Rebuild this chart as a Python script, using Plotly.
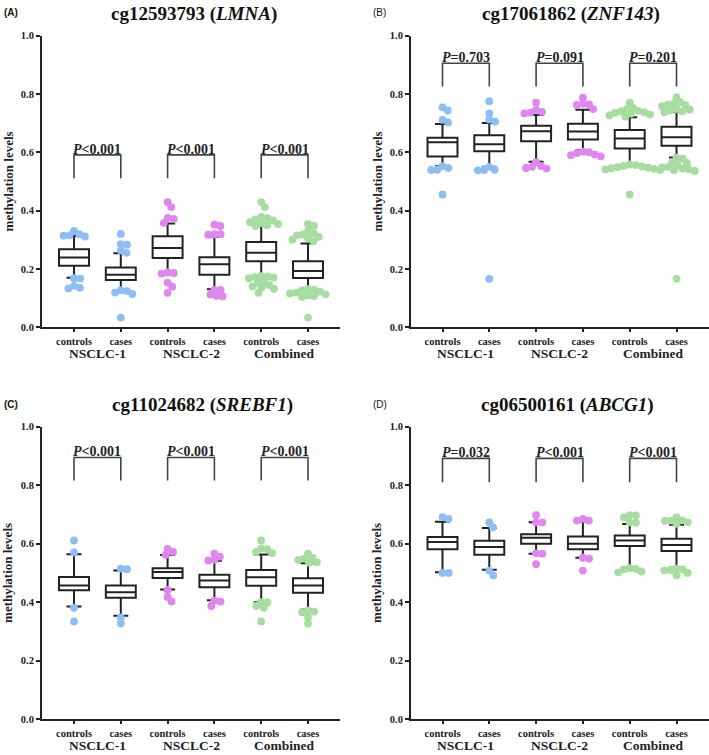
import math
import plotly.graph_objects as go

# ---------------- data ----------------
categories = ["controls", "cases", "controls", "cases", "controls", "cases"]
groups = ["NSCLC-1", "NSCLC-2", "Combined"]
panel_letters = ["(A)", "(B)", "(C)", "(D)"]
cg_ids = ["cg12593793", "cg17061862", "cg11024682", "cg06500161"]
genes = ["LMNA", "ZNF143", "SREBF1", "ABCG1"]
p_labels = [["<0.001", "<0.001", "<0.001"],
            ["=0.703", "=0.091", "=0.201"],
            ["<0.001", "<0.001", "<0.001"],
            ["=0.032", "<0.001", "<0.001"]]
y_ticks = [0.0, 0.2, 0.4, 0.6, 0.8, 1.0]

# box statistics (10-90 percentile whiskers)
q1_A = [0.211, 0.162, 0.237, 0.180, 0.226, 0.169]
med_A = [0.239, 0.180, 0.272, 0.216, 0.255, 0.193]
q3_A = [0.267, 0.205, 0.312, 0.240, 0.292, 0.226]
lo_A = [0.170, 0.128, 0.190, 0.130, 0.176, 0.128]
hi_A = [0.313, 0.254, 0.356, 0.310, 0.347, 0.287]

q1_B = [0.585, 0.603, 0.638, 0.644, 0.613, 0.622]
med_B = [0.634, 0.627, 0.672, 0.671, 0.647, 0.651]
q3_B = [0.650, 0.658, 0.691, 0.698, 0.676, 0.687]
lo_B = [0.552, 0.550, 0.567, 0.607, 0.560, 0.582]
hi_B = [0.697, 0.700, 0.728, 0.746, 0.720, 0.738]

q1_C = [0.441, 0.415, 0.483, 0.451, 0.456, 0.432]
med_C = [0.457, 0.434, 0.503, 0.474, 0.485, 0.457]
q3_C = [0.486, 0.457, 0.516, 0.494, 0.510, 0.482]
lo_C = [0.385, 0.354, 0.443, 0.407, 0.400, 0.375]
hi_C = [0.564, 0.508, 0.561, 0.542, 0.563, 0.533]

q1_D = [0.581, 0.562, 0.600, 0.581, 0.592, 0.575]
med_D = [0.606, 0.589, 0.620, 0.600, 0.611, 0.596]
q3_D = [0.623, 0.610, 0.632, 0.625, 0.628, 0.617]
lo_D = [0.502, 0.511, 0.566, 0.552, 0.519, 0.519]
hi_D = [0.675, 0.654, 0.673, 0.676, 0.667, 0.665]

# points beyond the whiskers
out_A = [
    [0.330, 0.319, 0.315, 0.314, 0.311, 0.168, 0.167, 0.142, 0.135, 0.133],
    [0.320, 0.285, 0.283, 0.263, 0.255, 0.127, 0.124, 0.119, 0.114, 0.033],
    [0.429, 0.412, 0.375, 0.371, 0.358, 0.188, 0.186, 0.184, 0.153, 0.139, 0.118],
    [0.352, 0.347, 0.319, 0.319, 0.317, 0.128, 0.128, 0.112, 0.108, 0.106],
    [0.429, 0.412, 0.378, 0.374, 0.370, 0.366, 0.360, 0.357, 0.354, 0.350, 0.347,
     0.175, 0.174, 0.172, 0.170, 0.168, 0.156, 0.152, 0.145, 0.140, 0.136, 0.132, 0.118],
    [0.354, 0.348, 0.330, 0.322, 0.318, 0.315, 0.310, 0.305, 0.300, 0.295,
     0.131, 0.128, 0.126, 0.122, 0.119, 0.116, 0.113, 0.110, 0.107, 0.104, 0.033],
]
out_B = [
    [0.754, 0.743, 0.711, 0.702, 0.552, 0.546, 0.540, 0.539, 0.455],
    [0.775, 0.733, 0.712, 0.705, 0.550, 0.540, 0.539, 0.538, 0.166],
    [0.770, 0.745, 0.738, 0.736, 0.733, 0.566, 0.553, 0.550, 0.546, 0.544],
    [0.787, 0.766, 0.764, 0.762, 0.748, 0.602, 0.600, 0.597, 0.592, 0.590, 0.586],
    [0.770, 0.752, 0.748, 0.742, 0.740, 0.737, 0.735, 0.732, 0.729, 0.726, 0.722,
     0.558, 0.556, 0.553, 0.551, 0.549, 0.547, 0.545, 0.543, 0.541, 0.539, 0.455],
    [0.789, 0.772, 0.768, 0.763, 0.761, 0.758, 0.748, 0.746, 0.743, 0.740, 0.737,
     0.581, 0.578, 0.566, 0.563, 0.556, 0.550, 0.548, 0.544, 0.541, 0.539, 0.536, 0.166],
]
out_C = [
    [0.611, 0.570, 0.381, 0.334],
    [0.515, 0.513, 0.348, 0.327],
    [0.582, 0.572, 0.562, 0.442, 0.418, 0.402],
    [0.566, 0.556, 0.545, 0.543, 0.405, 0.402, 0.387],
    [0.611, 0.583, 0.581, 0.572, 0.568, 0.400, 0.399, 0.387, 0.381, 0.334],
    [0.566, 0.552, 0.549, 0.545, 0.537, 0.535, 0.372, 0.368, 0.366, 0.348, 0.327],
]
out_D = [
    [0.691, 0.685, 0.500, 0.500],
    [0.673, 0.656, 0.508, 0.492],
    [0.698, 0.673, 0.673, 0.567, 0.566, 0.530],
    [0.685, 0.679, 0.679, 0.552, 0.549, 0.508],
    [0.698, 0.697, 0.690, 0.673, 0.672, 0.516, 0.514, 0.512, 0.505, 0.502],
    [0.690, 0.680, 0.679, 0.678, 0.673, 0.668, 0.515, 0.512, 0.510, 0.509, 0.500, 0.492],
]

bracket_top = [0.591, 0.905, 0.895, 0.892]
bracket_bottom = [0.511, 0.825, 0.816, 0.810]

stats = [
    (q1_A, med_A, q3_A, lo_A, hi_A, out_A),
    (q1_B, med_B, q3_B, lo_B, hi_B, out_B),
    (q1_C, med_C, q3_C, lo_C, hi_C, out_C),
    (q1_D, med_D, q3_D, lo_D, hi_D, out_D),
]

# ---------------- styling / layout ----------------
W, H = 709, 755
SERIF = "Liberation Serif"
SANS = "Liberation Sans"
INK = "#222222"
point_colors = ["#8DBEF6", "#8DBEF6", "#DF86EF", "#DF86EF", "#A8DDA1", "#A8DDA1"]

# target pixel geometry: (left, right, top, bottom, first-category x)
areas = [(42, 340, 31, 327, 74), (411, 709, 31, 327, 442.5),
         (42, 340, 428, 724.7, 74), (411, 709, 428, 724.7, 442.5)]
CAT_STEP = 46.8


def swarm(vals, xscale, yscale, d):
    placed = []
    offs = []
    for v in vals:
        y = v * yscale
        cands = [0.0]
        for px, py in placed:
            dy = abs(py - y)
            if dy < d:
                dx = math.sqrt(d * d - dy * dy)
                cands += [px + dx, px - dx]
        cands.sort(key=lambda c: (round(abs(c), 6), -c))
        chosen = cands[-1]
        for c in cands:
            if all((c - px) ** 2 + (y - py) ** 2 >= d * d - 1e-6 for px, py in placed):
                chosen = c
                break
        placed.append((chosen, y))
        offs.append(chosen / xscale)
    return offs


fig = go.Figure()
annotations = []
layout_axes = {}

for k in range(4):
    l, r, t, b, c = areas[k]
    step = CAT_STEP
    xr = [(l - c) / step, (r - c) / step]
    ys = (b - t) / 1.0
    sfx = "" if k == 0 else str(k + 1)
    xa, ya = "x" + sfx, "y" + sfx
    q1, med, q3, lo, hi, outs = stats[k]

    for i in range(6):
        offs = swarm(outs[i], step, ys, 6.2)
        fig.add_trace(go.Scatter(
            x=[i + o for o in offs], y=outs[i], mode="markers",
            marker=dict(size=7.8, color=point_colors[i], line=dict(width=0)),
            xaxis=xa, yaxis=ya, showlegend=False, hoverinfo="skip"))

    fig.add_trace(go.Box(
        x=list(range(6)), q1=q1, median=med, q3=q3, lowerfence=lo, upperfence=hi,
        width=0.64, whiskerwidth=0.5, boxpoints=False,
        fillcolor="white", line=dict(color=INK, width=2),
        xaxis=xa, yaxis=ya, showlegend=False, hoverinfo="skip"))

    for g in range(3):
        x0, x1 = 2 * g, 2 * g + 1
        fig.add_trace(go.Scatter(
            x=[x0, x0, x1, x1],
            y=[bracket_bottom[k], bracket_top[k], bracket_top[k], bracket_bottom[k]],
            mode="lines", line=dict(color="#444444", width=1.6),
            xaxis=xa, yaxis=ya, showlegend=False, hoverinfo="skip"))
        annotations.append(dict(
            x=g * 2 + 0.5, y=bracket_top[k], xref=xa, yref=ya,
            text="<b><i>P</i>" + p_labels[k][g].replace("<", "&lt;") + "</b>",
            showarrow=False, yanchor="bottom", yshift=-4,
            font=dict(family=SERIF, size=14, color=INK)))
        annotations.append(dict(
            x=g * 2 + 0.5, y=1 - (b + 27) / H, xref=xa, yref="paper",
            text="<b>" + groups[g] + "</b>", showarrow=False, yanchor="middle",
            font=dict(family=SERIF, size=13.5, color=INK)))

    layout_axes["xaxis" + sfx] = dict(
        domain=[l / W, r / W], range=xr, anchor=ya,
        tickvals=list(range(6)), ticktext=["<b>" + cc + "</b>" for cc in categories],
        showline=True, linecolor=INK, linewidth=2, ticks="outside", ticklen=3,
        tickwidth=1.5, tickcolor=INK, showgrid=False, zeroline=False,
        tickfont=dict(family=SERIF, size=10.5, color=INK))
    layout_axes["yaxis" + sfx] = dict(
        domain=[1 - b / H, 1 - t / H], range=[0, 1.0], anchor=xa,
        tickvals=y_ticks, ticktext=["<b>%.1f</b>" % v for v in y_ticks],
        showline=True, linecolor=INK, linewidth=2, ticks="outside", ticklen=4,
        tickwidth=1.5, tickcolor=INK, showgrid=False, zeroline=False,
        tickfont=dict(family=SERIF, size=10.5, color=INK))

    # title
    title_cx = [194, 571, 202, 567][k]
    annotations.append(dict(
        x=title_cx / W, y=1 - (t - 22) / H, xref="paper", yref="paper",
        text="<b>" + cg_ids[k] + " (<i>" + genes[k] + "</i>)</b>", showarrow=False,
        xanchor="center", yanchor="middle",
        font=dict(family=SERIF, size=19, color="#111111")))
    # panel letter
    letter = panel_letters[k]
    if k in (0, 2):
        letter = "<b>" + letter + "</b>"
    annotations.append(dict(
        x=(l - 40) / W, y=1 - (t - 23) / H, xref="paper", yref="paper",
        text=letter, showarrow=False, xanchor="left", yanchor="middle",
        font=dict(family=SANS, size=10, color="#111111")))
    # y-axis title
    annotations.append(dict(
        x=(l - 34) / W, y=1 - (t + b) / 2 / H, xref="paper", yref="paper",
        text="<b>methylation levels</b>", showarrow=False, textangle=-90,
        xanchor="center", yanchor="middle",
        font=dict(family=SERIF, size=13, color=INK)))

fig.update_layout(
    width=W, height=H, margin=dict(l=0, r=0, t=0, b=0),
    paper_bgcolor="white", plot_bgcolor="white",
    showlegend=False, annotations=annotations, **layout_axes)

fig.write_html(
    "out.html",
    config={"displayModeBar": False, "responsive": False},
    post_script=("document.body.style.margin='0px';"
                 "document.body.style.padding='0px';"
                 "document.documentElement.style.overflow='hidden';"))
